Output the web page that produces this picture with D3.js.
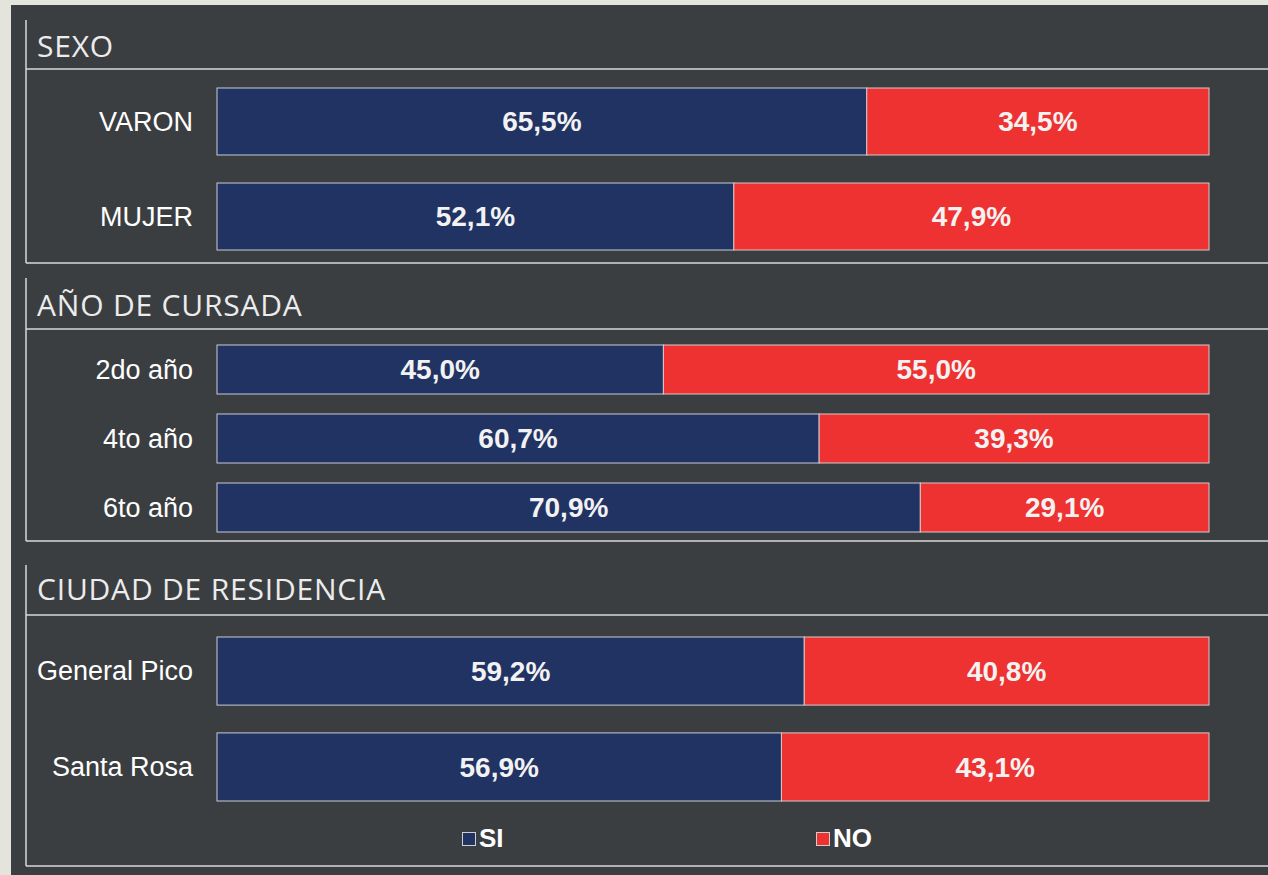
<!DOCTYPE html>
<html><head><meta charset="utf-8">
<script src="https://cdn.jsdelivr.net/npm/d3@7"></script>
<style>html,body{margin:0;padding:0;background:#e4e4dd;}svg{display:block;}</style>
</head><body>
<script>
// ---- data ----
const sectionTitles = ["SEXO", "AÑO DE CURSADA", "CIUDAD DE RESIDENCIA"];
const sexoCategories = ["VARON", "MUJER"];
const sexoSi = [65.5, 52.1];
const sexoNo = [34.5, 47.9];
const anioCategories = ["2do año", "4to año", "6to año"];
const anioSi = [45.0, 60.7, 70.9];
const anioNo = [55.0, 39.3, 29.1];
const ciudadCategories = ["General Pico", "Santa Rosa"];
const ciudadSi = [59.2, 56.9];
const ciudadNo = [40.8, 43.1];
const seriesNames = ["SI", "NO"];

// ---- layout ----
const W = 1268, H = 875;
const colors = {SI: "#213363", NO: "#ee3131"};
const sections = [
  {title: sectionTitles[0], cats: sexoCategories, si: sexoSi, no: sexoNo, top: 20, header: 69, bottom: 263, titleY: 57, band: [88, 250], pad: 0.295},
  {title: sectionTitles[1], cats: anioCategories, si: anioSi, no: anioNo, top: 278, header: 329, bottom: 541, titleY: 316, band: [345, 532], pad: 0.29},
  {title: sectionTitles[2], cats: ciudadCategories, si: ciudadSi, no: ciudadNo, top: 565, header: 615, bottom: 866, titleY: 600, band: [637, 801], pad: 0.29}
];

const svg = d3.select("body").append("svg").attr("width", W).attr("height", H);
svg.append("rect").attr("x", 11).attr("y", 5).attr("width", W - 11).attr("height", H - 5).attr("fill", "#3b3e41");

const x = d3.scaleLinear().domain([0, 100]).range([217, 1209]);
const fmt = v => d3.format(".1f")(v).replace(".", ",") + "%";
const lineColor = "#d8d8d8";

sections.forEach(s => {
  const g = svg.append("g");
  g.append("line").attr("x1", 26).attr("x2", 26).attr("y1", s.top).attr("y2", s.bottom)
    .attr("stroke", lineColor).attr("stroke-width", 1.5);
  g.append("line").attr("x1", 26).attr("x2", W).attr("y1", s.header).attr("y2", s.header)
    .attr("stroke", lineColor).attr("stroke-width", 1.5);
  g.append("line").attr("x1", 26).attr("x2", W).attr("y1", s.bottom).attr("y2", s.bottom)
    .attr("stroke", lineColor).attr("stroke-width", 1.5);
  g.append("text").attr("x", 37).attr("y", s.titleY).text(s.title)
    .attr("fill", "#ececec").attr("font-family", "'Open Sans', sans-serif").attr("font-size", 30)
    .attr("letter-spacing", 0.8);

  const y = d3.scaleBand().domain(s.cats).range(s.band).paddingInner(s.pad).paddingOuter(0);
  const rows = s.cats.map((c, i) => ({cat: c, si: s.si[i], no: s.no[i]}));
  const row = g.selectAll("g.row").data(rows).join("g").attr("class", "row");

  row.append("rect").attr("x", x(0)).attr("y", d => y(d.cat)).attr("width", d => x(d.si) - x(0))
    .attr("height", y.bandwidth()).attr("fill", colors.SI).attr("stroke", "#c9ccd4").attr("stroke-width", 1);
  row.append("rect").attr("x", d => x(d.si)).attr("y", d => y(d.cat)).attr("width", d => x(d.si + d.no) - x(d.si))
    .attr("height", y.bandwidth()).attr("fill", colors.NO).attr("stroke", "#d9c9c9").attr("stroke-width", 1);

  row.append("text").attr("x", 193).attr("y", d => y(d.cat) + y.bandwidth() / 2).attr("dy", "0.35em")
    .attr("text-anchor", "end").attr("fill", "#ffffff").attr("font-family", "'Liberation Sans', Arial, sans-serif")
    .attr("font-size", 27).text(d => d.cat);

  row.append("text").attr("x", d => (x(0) + x(d.si)) / 2).attr("y", d => y(d.cat) + y.bandwidth() / 2).attr("dy", "0.35em")
    .attr("text-anchor", "middle").attr("fill", "#f2f2f2").attr("font-family", "'Liberation Sans', Arial, sans-serif")
    .attr("font-weight", "bold").attr("font-size", 28).text(d => fmt(d.si));
  row.append("text").attr("x", d => (x(d.si) + x(d.si + d.no)) / 2).attr("y", d => y(d.cat) + y.bandwidth() / 2).attr("dy", "0.35em")
    .attr("text-anchor", "middle").attr("fill", "#f2f2f2").attr("font-family", "'Liberation Sans', Arial, sans-serif")
    .attr("font-weight", "bold").attr("font-size", 28).text(d => fmt(d.no));
});

// legend
const legendX = d3.scaleOrdinal().domain(seriesNames).range([462, 816]);
const lg = svg.selectAll("g.leg").data(seriesNames).join("g").attr("class", "leg")
  .attr("transform", d => `translate(${legendX(d)},832)`);
lg.append("rect").attr("x", 0.5).attr("y", 0.5).attr("width", 13).attr("height", 13)
  .attr("fill", d => colors[d]).attr("stroke", "#cfcfcf").attr("stroke-width", 1);
lg.append("text").attr("x", 17).attr("y", 15).text(d => d)
  .attr("fill", "#ffffff").attr("font-family", "'Liberation Sans', Arial, sans-serif")
  .attr("font-weight", "bold").attr("font-size", 26);
</script>
</body></html>
